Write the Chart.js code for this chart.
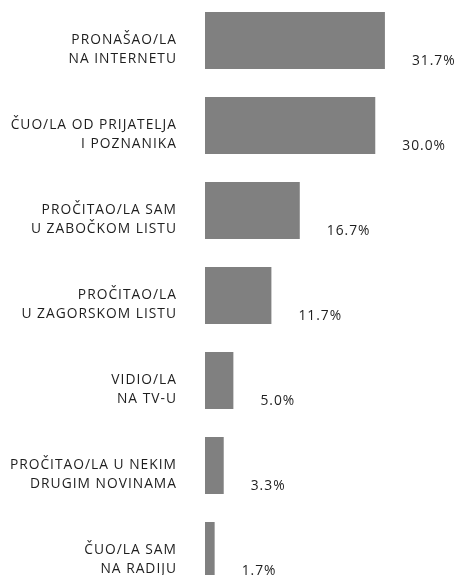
<!DOCTYPE html>
<html>
<head>
<meta charset="utf-8">
<script src="https://cdn.jsdelivr.net/npm/chart.js@4"></script>
<style>
  html, body { margin: 0; padding: 0; background: #fff; overflow: hidden; }
  #wrap { position: absolute; left: 0; top: -2px; width: 457px; height: 595px; }
</style>
</head>
<body>
<div id="wrap"><canvas id="c"></canvas></div>
<script>
const categories = [
  ['PRONAŠAO/LA', 'NA INTERNETU'],
  ['ČUO/LA OD PRIJATELJA', 'I POZNANIKA'],
  ['PROČITAO/LA SAM', 'U ZABOČKOM LISTU'],
  ['PROČITAO/LA', 'U ZAGORSKOM LISTU'],
  ['VIDIO/LA', 'NA TV-U'],
  ['PROČITAO/LA U NEKIM', 'DRUGIM NOVINAMA'],
  ['ČUO/LA SAM', 'NA RADIJU']
];
const shares = [31.7, 30.0, 16.7, 11.7, 5.0, 3.3, 1.7];

const FONT = '"Open Sans", "Noto Sans", sans-serif';
const INK = '#1e1e1e';

const spacing = {
  id: 'spacing',
  beforeDraw(chart){ chart.ctx.letterSpacing = '1px'; }
};

const valueLabels = {
  id: 'valueLabels',
  afterDatasetsDraw(chart){
    const ctx = chart.ctx;
    const meta = chart.getDatasetMeta(0);
    ctx.save();
    ctx.letterSpacing = '1px';
    ctx.font = '500 13.8px ' + FONT;
    ctx.fillStyle = INK;
    ctx.textAlign = 'left';
    ctx.textBaseline = 'middle';
    meta.data.forEach((bar, i)=>{
      ctx.fillText(shares[i].toFixed(1) + '%', bar.x + 27, bar.y + 21);
    });
    ctx.restore();
  }
};

new Chart(document.getElementById('c'), {
  type: 'bar',
  data: {
    labels: categories,
    datasets: [{
      data: shares,
      backgroundColor: '#808080',
      borderWidth: 0,
      barPercentage: 0.67,
      categoryPercentage: 1
    }]
  },
  options: {
    indexAxis: 'y',
    responsive: true,
    maintainAspectRatio: false,
    animation: false,
    layout: { padding: 0 },
    plugins: { legend: { display: false }, tooltip: { enabled: false } },
    scales: {
      x: { display: false, min: 0, max: 44.4 },
      y: {
        grid: { display: false, drawTicks: false },
        border: { display: false },
        afterFit(scale){
          scale.width = 205;
          scale.paddingTop = 0;
          scale.paddingBottom = 0;
        },
        ticks: {
          padding: 28,
          labelOffset: 9,
          color: INK,
          font: { family: FONT, size: 13.8, weight: 500, lineHeight: 1.32 }
        }
      }
    }
  },
  plugins: [spacing, valueLabels]
});
</script>
</body>
</html>
